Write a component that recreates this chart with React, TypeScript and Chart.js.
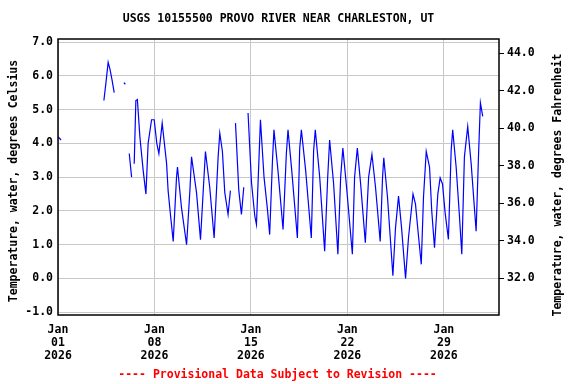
import React, { useEffect, useRef } from "react";
import { Chart, registerables } from "chart.js";
Chart.register(...registerables);

const TITLE = "USGS 10155500 PROVO RIVER NEAR CHARLESTON, UT";
const FOOTER = "---- Provisional Data Subject to Revision ----";
const LEFT_TITLE = "Temperature, water, degrees Celsius";
const RIGHT_TITLE = "Temperature, water, degrees Fahrenheit";

const xTickDays = [0, 7, 14, 21, 28];
const xTickMonth = ["Jan", "Jan", "Jan", "Jan", "Jan"];
const xTickDay = ["01", "08", "15", "22", "29"];
const xTickYear = ["2026", "2026", "2026", "2026", "2026"];
const celsiusTicks = [-1, 0, 1, 2, 3, 4, 5, 6, 7];
const fahrenheitTicks = [32, 34, 36, 38, 40, 42, 44];

// days since Jan 01 2026 00:00
const day = [
  0.0, 0.22, 0.3,
  3.33, 3.48, 3.64, 3.77, 3.91, 4.08, 4.2,
  4.78, 4.89, 5.0,
  5.17, 5.34, 5.4,
  5.53, 5.65, 5.76, 5.94, 6.18, 6.38, 6.54, 6.79, 6.98, 7.17, 7.32, 7.56, 7.88, 7.99,
  8.17, 8.36, 8.6, 8.67, 8.96, 9.33, 9.57, 9.69, 10.05, 10.34, 10.58, 10.7, 11.01,
  11.33, 11.62, 11.74, 11.93, 12.1, 12.34, 12.51, 12.7,
  12.88, 13.12, 13.31, 13.48, 13.6,
  13.79, 14.04, 14.28, 14.4, 14.57, 14.69, 14.95, 15.2, 15.36, 15.56, 15.67, 15.96,
  16.33, 16.57, 16.69, 16.96, 17.37, 17.54, 17.66, 17.97, 18.38, 18.55, 18.67, 18.99,
  19.35, 19.57, 19.71, 20.0, 20.31, 20.51, 20.67, 20.94, 21.36, 21.52, 21.72, 21.96,
  22.3, 22.54, 22.78, 23.04, 23.38, 23.55, 23.64, 23.91, 24.3, 24.49, 24.71, 24.93,
  25.22, 25.43, 25.76, 25.94, 26.16, 26.36, 26.52, 26.72, 26.96, 27.12, 27.32, 27.56,
  27.73, 27.9, 28.09, 28.33, 28.53, 28.64, 28.89, 29.13, 29.3, 29.49, 29.73, 29.98,
  30.34, 30.51, 30.65, 30.82,
];

const tempC: (number | null)[] = [
  4.2, 4.1, null,
  5.27, 5.8, 6.4, 6.2, 5.9, 5.5, null,
  5.8, 5.75, null,
  3.7, 3.0, null,
  3.4, 5.27, 5.3, 4.2, 3.2, 2.5, 4.0, 4.7, 4.7, 4.0, 3.7, 4.6, 3.4, 2.6,
  1.85, 1.1, 3.0, 3.3, 2.1, 1.0, 2.6, 3.6, 2.55, 1.15, 2.9, 3.76, 2.7,
  1.2, 3.6, 4.3, 3.76, 2.55, 1.9, 2.6, null,
  4.6, 2.6, 1.9, 2.7, null,
  4.9, 2.84, 1.85, 1.6, 3.4, 4.7, 3.0, 2.04, 1.3, 3.47, 4.4, 3.2,
  1.45, 3.7, 4.4, 3.2, 1.2, 3.86, 4.4, 3.2, 1.2, 3.8, 4.4, 3.0,
  0.81, 3.0, 4.1, 2.8, 0.72, 3.0, 3.86, 2.7, 0.72, 3.0, 3.86, 2.8,
  1.06, 3.0, 3.67, 2.7, 1.1, 3.0, 3.57, 2.4, 0.08, 1.5, 2.44, 1.5,
  0.0, 1.2, 2.5, 2.2, 1.25, 0.42, 2.4, 3.76, 3.3, 2.0, 0.91, 2.5,
  2.98, 2.8, 1.95, 1.16, 3.8, 4.4, 3.3, 1.85, 0.72, 3.6, 4.5, 3.4,
  1.4, 3.6, 5.2, 4.8,
];

const C_MIN = -1.08;
const C_MAX = 7.09;
const toF = (c: number) => (c * 9) / 5 + 32;

const FONT_FAMILY = '"DejaVu Sans Mono", "Liberation Mono", monospace';

export default function App() {
  const ref = useRef<HTMLCanvasElement | null>(null);

  useEffect(() => {
    document.body.style.margin = "0";
    const canvas = ref.current;
    if (!canvas) return;

    const textPlugin = {
      id: "usgsText",
      afterDraw(chart: any) {
        const { ctx, chartArea } = chart;
        const cx = (chartArea.left + chartArea.right) / 2;
        ctx.save();
        // frame
        ctx.strokeStyle = "#000";
        ctx.lineWidth = 1.5;
        ctx.strokeRect(chartArea.left, chartArea.top, chartArea.right - chartArea.left, chartArea.bottom - chartArea.top);
        ctx.font = `bold 11.5px ${FONT_FAMILY}`;
        ctx.textAlign = "center";
        ctx.textBaseline = "middle";
        ctx.fillStyle = "#000";
        ctx.fillText(TITLE, cx, 19);
        ctx.fillStyle = "#ff0000";
        ctx.fillText(FOOTER, cx - 1, 375);
        ctx.fillStyle = "#000";
        const cy = (chartArea.top + chartArea.bottom) / 2;
        ctx.translate(14, cy + 4);
        ctx.rotate(-Math.PI / 2);
        ctx.fillText(LEFT_TITLE, 0, 0);
        ctx.restore();
        ctx.save();
        ctx.font = `bold 11.5px ${FONT_FAMILY}`;
        ctx.textAlign = "center";
        ctx.textBaseline = "middle";
        ctx.fillStyle = "#000";
        ctx.translate(558, cy + 8);
        ctx.rotate(-Math.PI / 2);
        ctx.fillText(RIGHT_TITLE, 0, 0);
        ctx.restore();
      },
    };

    const points = day.map((d, i) => ({ x: d, y: tempC[i] }));

    const chart = new Chart(canvas, {
      type: "line",
      data: {
        datasets: [
          {
            data: points as any,
            borderColor: "#0000ff",
            borderWidth: 1.2,
            pointRadius: 0,
            tension: 0,
            spanGaps: false,
            yAxisID: "y",
          },
        ],
      },
      options: {
        animation: false,
        responsive: false,
        maintainAspectRatio: false,
        layout: { padding: { top: 39, left: 0, right: 0, bottom: 0 } },
        plugins: { legend: { display: false }, tooltip: { enabled: false }, title: { display: false } },
        scales: {
          x: {
            type: "linear",
            min: 0,
            max: 32,
            afterBuildTicks: (scale: any) => {
              scale.ticks = xTickDays.map((v) => ({ value: v }));
            },
            afterFit: (scale: any) => {
              scale.height = 69;
            },
            ticks: {
              autoSkip: false,
              maxRotation: 0,
              padding: 9,
              color: "#000",
              font: { family: FONT_FAMILY, size: 11.5, weight: "bold", lineHeight: 1.13 },
              callback: (v: any) => {
                const i = xTickDays.indexOf(Number(v));
                return i < 0 ? "" : [xTickMonth[i], xTickDay[i], xTickYear[i]];
              },
            },
            grid: { color: "#c8c8c8", lineWidth: 1, drawTicks: false },
            border: { display: false },
          },
          y: {
            type: "linear",
            position: "left",
            min: C_MIN,
            max: C_MAX,
            afterBuildTicks: (scale: any) => {
              scale.ticks = celsiusTicks.map((v) => ({ value: v }));
            },
            afterFit: (scale: any) => {
              scale.width = 58;
            },
            ticks: {
              padding: 5,
              color: "#000",
              font: { family: FONT_FAMILY, size: 11.5, weight: "bold" },
              callback: (v: any) => Number(v).toFixed(1),
            },
            grid: { color: "#c8c8c8", lineWidth: 1, drawTicks: false },
            border: { display: false },
          },
          y1: {
            type: "linear",
            position: "right",
            min: toF(C_MIN),
            max: toF(C_MAX),
            afterBuildTicks: (scale: any) => {
              scale.ticks = fahrenheitTicks.map((v) => ({ value: v }));
            },
            afterFit: (scale: any) => {
              scale.width = 77;
            },
            ticks: {
              padding: 3,
              color: "#000",
              font: { family: FONT_FAMILY, size: 11.5, weight: "bold" },
              callback: (v: any) => Number(v).toFixed(1),
            },
            grid: { drawOnChartArea: false, drawTicks: true, tickLength: 5, color: "#000", lineWidth: 1 },
            border: { display: false },
          },
        },
      },
      plugins: [textPlugin],
    });

    return () => chart.destroy();
  }, []);

  return (
    <div style={{ width: 576, height: 384 }}>
      <canvas ref={ref} width={576} height={384} style={{ display: "block", width: 576, height: 384 }} />
    </div>
  );
}
